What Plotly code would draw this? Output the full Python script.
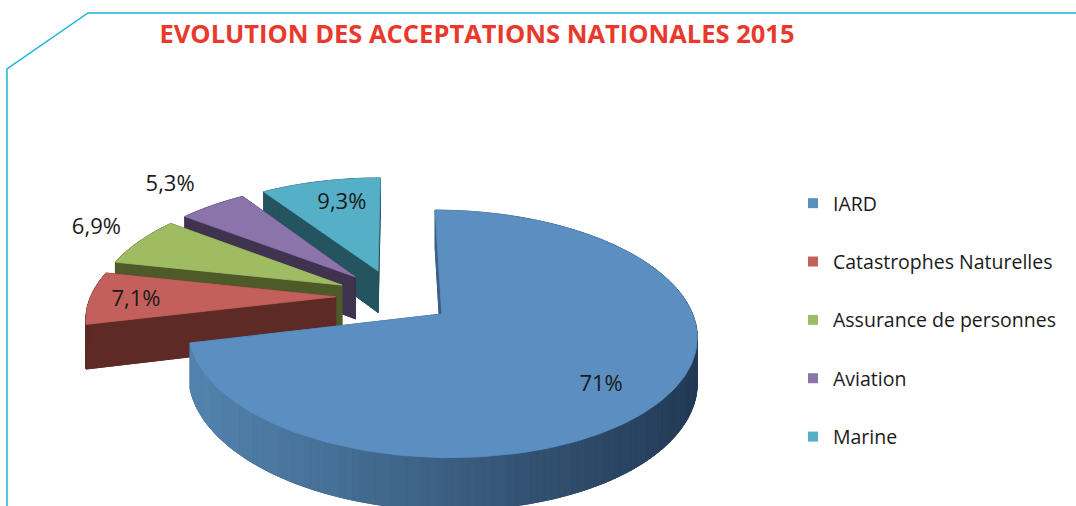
import numpy as np
import plotly.graph_objects as go

# ---------------- data ----------------
categories = ["IARD", "Catastrophes Naturelles", "Assurance de personnes", "Aviation", "Marine"]
values = [71.0, 7.1, 6.9, 5.3, 9.3]
value_labels = ["71%", "7,1%", "6,9%", "5,3%", "9,3%"]
title_text = "EVOLUTION DES ACCEPTATIONS NATIONALES 2015"

# ---------------- style ----------------
top_colors = ["#5b8ec1", "#c3605b", "#a0bc63", "#8a74a9", "#55afc6"]
side_colors = ["#3d5f86", "#5d2a25", "#4f5a2b", "#3f3350", "#24545f"]
grad_left, grad_right = (83, 131, 174), (35, 58, 85)
label_radius = [0.78, 0.81, 1.25, 1.33, 0.72]
label_angle_offset = [5.4, -1.8, 1.3, -0.3, 2.6]

W, H = 1076, 506
CX, CY = 394.5, 296.5
RX, RY = 245.0, 115.0
PERSP = 0.157
EXPLODE = 0.24
DEPTH = 43.0
FONT = "Open Sans"


def project(u, v, down=0.0):
    u = np.asarray(u, float)
    v = np.asarray(v, float)
    w = 1 + PERSP * v
    return CX + RX * u / w, CY - RY * v / w + down / w


def shoelace(xs, ys):
    xs, ys = np.asarray(xs), np.asarray(ys)
    return np.sum(xs * np.roll(ys, -1) - np.roll(xs, -1) * ys)


def oriented(xs, ys):
    xs, ys = list(xs), list(ys)
    if shoelace(xs, ys) < 0:
        xs, ys = xs[::-1], ys[::-1]
    return xs + [xs[0], None], ys + [ys[0], None]


def quad(tx, ty, bx, by, j):
    a, b = j, j + 1
    if tx[b] < tx[a]:
        a, b = b, a
    return ([tx[a], tx[b], bx[b], bx[a], tx[a], None],
            [ty[a], ty[b], by[b], by[a], ty[a], None])


fracs = np.array(values) / np.sum(values)
ends = np.cumsum(fracs) * 360.0
starts = ends - fracs * 360.0

slices = []
for i in range(len(values)):
    t0, t1 = starts[i], ends[i]
    tb = np.radians((t0 + t1) / 2)
    au, av = EXPLODE * np.sin(tb), EXPLODE * np.cos(tb)
    n = max(10, int((t1 - t0) / 1.5))
    th = np.radians(np.linspace(t0, t1, n))
    pu = np.concatenate([[au], au + np.sin(th)])
    pv = np.concatenate([[av], av + np.cos(th)])
    slices.append(dict(tb=tb, au=au, av=av, pu=pu, pv=pv))

# painter's order: farthest first
order = sorted(range(len(values)), key=lambda k: -np.cos(slices[k]["tb"]))

fig = go.Figure()


def lerp_col(t):
    c = [int(round(a + (b - a) * t)) for a, b in zip(grad_left, grad_right)]
    return "rgb(%d,%d,%d)" % tuple(c)


for k in order:
    s = slices[k]
    tx, ty = project(s["pu"], s["pv"])
    bx, by = project(s["pu"], s["pv"], DEPTH)
    tx = np.append(tx, tx[0]); ty = np.append(ty, ty[0])
    bx = np.append(bx, bx[0]); by = np.append(by, by[0])
    npts = len(tx)
    base_x, base_y = oriented(bx[:-1], by[:-1])
    if k == 0:
        nb = 36
        xmin, xmax = 195.0, 700.0
        bins = {b: ([], []) for b in range(nb)}
        plain_x, plain_y = list(base_x), list(base_y)
        for j in range(npts - 1):
            qx, qy = quad(tx, ty, bx, by, j)
            if 1 <= j < npts - 2:
                mx = (tx[j] + tx[j + 1]) / 2
                b = int(np.clip((mx - xmin) / (xmax - xmin) * nb, 0, nb - 1))
                bins[b][0].extend(qx)
                bins[b][1].extend(qy)
            else:
                plain_x.extend(qx)
                plain_y.extend(qy)
        fig.add_trace(go.Scatter(x=plain_x, y=plain_y, mode="lines", fill="toself",
                                 fillcolor=side_colors[k],
                                 line=dict(color=side_colors[k], width=1),
                                 hoverinfo="skip", showlegend=False))
        for b in range(nb):
            if not bins[b][0]:
                continue
            col = lerp_col((b + 0.5) / nb)
            fig.add_trace(go.Scatter(x=bins[b][0], y=bins[b][1], mode="lines", fill="toself",
                                     fillcolor=col, line=dict(color=col, width=1),
                                     hoverinfo="skip", showlegend=False))
    else:
        wx, wy = list(base_x), list(base_y)
        for j in range(npts - 1):
            qx, qy = quad(tx, ty, bx, by, j)
            wx += qx
            wy += qy
        fig.add_trace(go.Scatter(x=wx, y=wy, mode="lines", fill="toself",
                                 fillcolor=side_colors[k], line=dict(color=side_colors[k], width=1),
                                 hoverinfo="skip", showlegend=False))
    fig.add_trace(go.Scatter(x=tx, y=ty, mode="lines", fill="toself", fillcolor=top_colors[k],
                             line=dict(color=top_colors[k], width=0.8), name=categories[k],
                             text=value_labels[k], hoverinfo="name+text", showlegend=False))

# data labels
lx, ly = [], []
for k in range(len(values)):
    s = slices[k]
    r = label_radius[k]
    ang = s["tb"] + np.radians(label_angle_offset[k])
    x, y = project(s["au"] + r * np.sin(ang), s["av"] + r * np.cos(ang))
    lx.append(float(x))
    ly.append(float(y))
fig.add_trace(go.Scatter(x=lx, y=ly, mode="text", text=value_labels,
                         textfont=dict(family=FONT, size=22, color="#1a1a1a"),
                         hoverinfo="skip", showlegend=False))

# legend entries
for k in range(len(values)):
    fig.add_trace(go.Scatter(x=[None], y=[None], mode="markers", name=categories[k],
                             legendgroup=str(k),
                             marker=dict(symbol="square", size=10, color=top_colors[k])))

frame = dict(type="path", xref="x", yref="y",
             path="M 7 506 L 7 69 L 88 13 L 1076 13",
             line=dict(color="#1fb5d6", width=1.5))

fig.update_layout(
    width=W, height=H, autosize=False,
    margin=dict(l=0, r=0, t=0, b=0),
    paper_bgcolor="white", plot_bgcolor="white",
    xaxis=dict(range=[0, W], visible=False, fixedrange=True),
    yaxis=dict(range=[H, 0], visible=False, fixedrange=True),
    shapes=[frame],
    title=dict(text="<b>" + title_text + "</b>", x=477 / W, xanchor="center",
               y=1 - 34 / H, yanchor="middle",
               font=dict(family=FONT, size=25.5, color="#e8392c")),
    legend=dict(x=793 / W, y=1 - 184 / H, xanchor="left", yanchor="top",
                font=dict(family=FONT, size=19.5, color="#1a1a1a"),
                tracegroupgap=30, bgcolor="rgba(0,0,0,0)"),
    showlegend=True,
)

fig.write_html("out.html", config={"displayModeBar": False},
               post_script="document.body.style.margin='0';")
